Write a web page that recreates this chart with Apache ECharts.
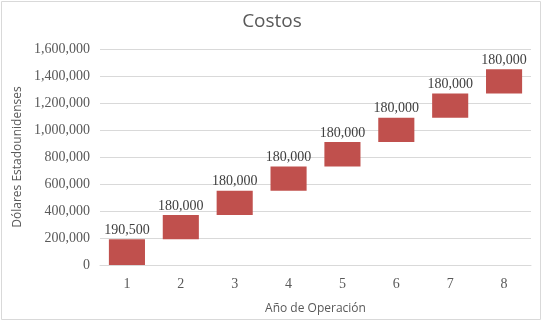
<!DOCTYPE html>
<html lang="es">
  <head>
    <meta charset="UTF-8" />
    <title>Costos</title>
    <script src="https://cdn.jsdelivr.net/npm/echarts/dist/echarts.min.js"></script>
    <style>
      html, body { margin: 0; padding: 0; background: #fff; }
      #chart { width: 544px; height: 323px; }
    </style>
  </head>
  <body>
    <div id="chart"></div>
    <script>
      // datos del gráfico
      var years = ["1", "2", "3", "4", "5", "6", "7", "8"];
      var costs = [190500, 180000, 180000, 180000, 180000, 180000, 180000, 180000];
      var yTicks = [0, 200000, 400000, 600000, 800000, 1000000, 1200000, 1400000, 1600000];

      // base invisible para la cascada
      var base = [];
      var acc = 0;
      for (var i = 0; i < costs.length; i++) {
        base.push(acc);
        acc += costs[i];
      }

      function fmt(v) {
        return v.toLocaleString("en-US");
      }

      var serif = "'Liberation Serif', 'Times New Roman', serif";
      var sans = "'Open Sans', 'Noto Sans', sans-serif";

      var chart = echarts.init(document.getElementById("chart"));
      var option = {
        animation: false,
        graphic: [
          {
            type: "rect",
            shape: { x: 1.5, y: 1.5, width: 539, height: 318 },
            style: { fill: "none", stroke: "#d9d9d9", lineWidth: 1 },
          },
        ],
        title: {
          text: "Costos",
          left: "center",
          top: 7,
          textStyle: { fontFamily: sans, fontSize: 19, fontWeight: "normal", color: "#595959" },
        },
        grid: { left: 100, right: 13, top: 49, bottom: 58 },
        xAxis: {
          type: "category",
          data: years,
          name: "Año de Operación",
          nameLocation: "middle",
          nameGap: 38,
          nameTextStyle: { fontFamily: sans, fontSize: 12, color: "#595959" },
          axisLine: { lineStyle: { color: "#d9d9d9" } },
          axisTick: { show: false },
          axisLabel: { fontFamily: serif, fontSize: 14, color: "#595959", margin: 12 },
        },
        yAxis: {
          type: "value",
          min: yTicks[0],
          max: yTicks[yTicks.length - 1],
          interval: 200000,
          name: "Dólares Estadounidenses",
          nameLocation: "middle",
          nameGap: 76,
          nameTextStyle: { fontFamily: sans, fontSize: 12, color: "#595959" },
          axisLine: { show: false },
          axisTick: { show: false },
          splitLine: { lineStyle: { color: "#d9d9d9" } },
          axisLabel: {
            fontFamily: serif,
            fontSize: 14,
            color: "#595959",
            margin: 10,
            formatter: function (v) { return fmt(v); },
          },
        },
        series: [
          {
            type: "bar",
            stack: "w",
            data: base,
            barWidth: "67%",
            itemStyle: { color: "transparent" },
            silent: true,
          },
          {
            type: "bar",
            stack: "w",
            data: costs,
            barWidth: "67%",
            itemStyle: { color: "#c0504d" },
            label: {
              show: true,
              position: "top",
              distance: 2,
              fontFamily: serif,
              fontSize: 14,
              color: "#404040",
              formatter: function (p) { return fmt(p.value); },
            },
          },
        ],
      };
      chart.setOption(option);
    </script>
  </body>
</html>
